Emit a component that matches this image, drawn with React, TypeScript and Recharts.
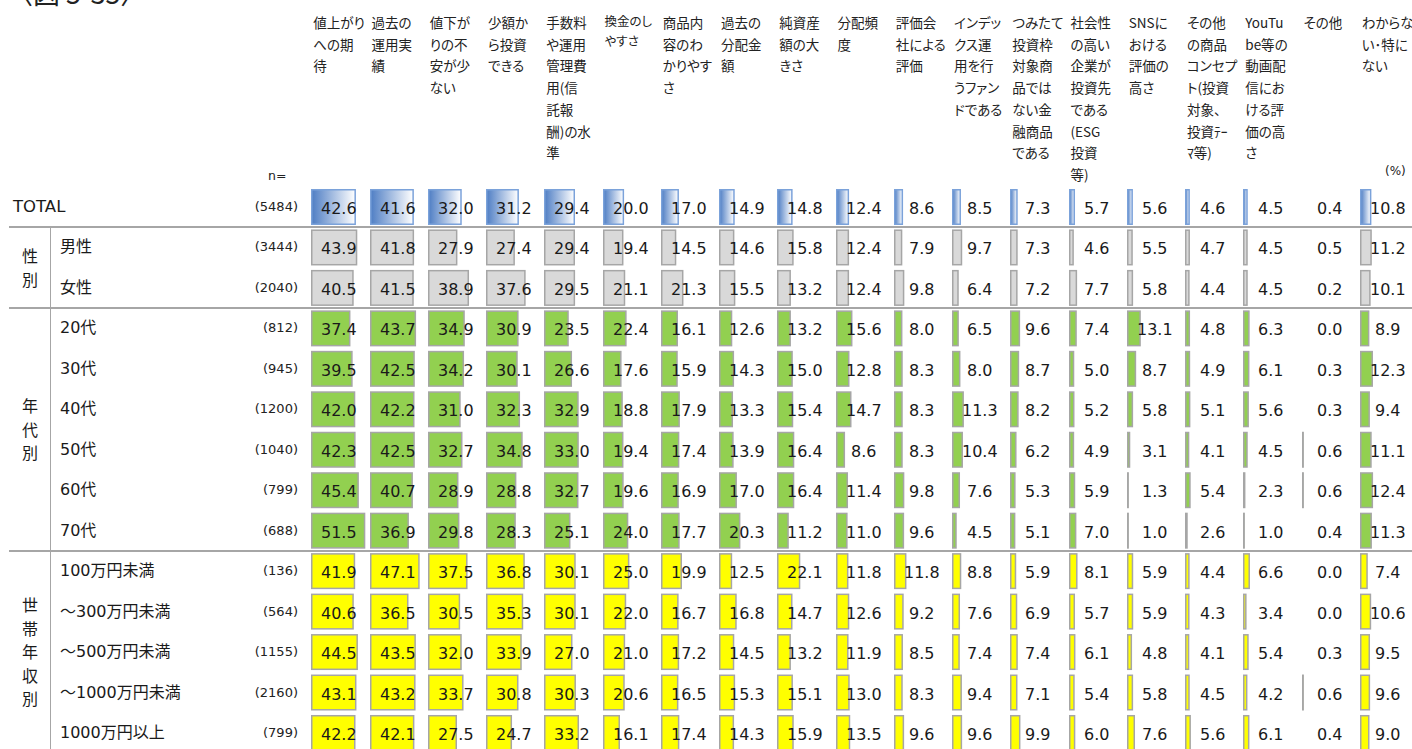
import { Bar, BarChart, LabelList, XAxis, YAxis } from "recharts";

// 行ラベル・n数・グループ
const ROW_LABELS = [
  "TOTAL", "男性", "女性", "20代", "30代", "40代", "50代", "60代", "70代",
  "100万円未満", "～300万円未満", "～500万円未満", "～1000万円未満", "1000万円以上",
];
const ROW_N = [5484, 3444, 2040, 812, 945, 1200, 1040, 799, 688, 136, 564, 1155, 2160, 799];
const ROW_GROUP = [
  "total", "gender", "gender", "age", "age", "age", "age", "age", "age",
  "income", "income", "income", "income", "income",
];

// 列見出し（改行位置は元の表どおり）
const COLUMN_HEADERS = [
  ["値上がり", "への期", "待"],
  ["過去の", "運用実", "績"],
  ["値下が", "りの不", "安が少", "ない"],
  ["少額か", "ら投資", "できる"],
  ["手数料", "や運用", "管理費", "用(信", "託報", "酬)の水", "準"],
  ["換金のし", "やすさ"],
  ["商品内", "容のわ", "かりやす", "さ"],
  ["過去の", "分配金", "額"],
  ["純資産", "額の大", "きさ"],
  ["分配頻", "度"],
  ["評価会", "社による", "評価"],
  ["インデッ", "クス運", "用を行", "うファン", "ドである"],
  ["つみたて", "投資枠", "対象商", "品では", "ない金", "融商品", "である"],
  ["社会性", "の高い", "企業が", "投資先", "である", "(ESG", "投資", "等)"],
  ["SNSに", "おける", "評価の", "高さ"],
  ["その他", "の商品", "コンセプ", "ト(投資", "対象、", "投資ﾃｰ", "ﾏ等)"],
  ["YouTu", "be等の", "動画配", "信にお", "ける評", "価の高", "さ"],
  ["その他"],
  ["わからな", "い･特に", "ない"],
];

// 各行の値（%）
const TOTAL_ROW = [42.6, 41.6, 32.0, 31.2, 29.4, 20.0, 17.0, 14.9, 14.8, 12.4, 8.6, 8.5, 7.3, 5.7, 5.6, 4.6, 4.5, 0.4, 10.8];
const MALE = [43.9, 41.8, 27.9, 27.4, 29.4, 19.4, 14.5, 14.6, 15.8, 12.4, 7.9, 9.7, 7.3, 4.6, 5.5, 4.7, 4.5, 0.5, 11.2];
const FEMALE = [40.5, 41.5, 38.9, 37.6, 29.5, 21.1, 21.3, 15.5, 13.2, 12.4, 9.8, 6.4, 7.2, 7.7, 5.8, 4.4, 4.5, 0.2, 10.1];
const AGE_20 = [37.4, 43.7, 34.9, 30.9, 23.5, 22.4, 16.1, 12.6, 13.2, 15.6, 8.0, 6.5, 9.6, 7.4, 13.1, 4.8, 6.3, 0.0, 8.9];
const AGE_30 = [39.5, 42.5, 34.2, 30.1, 26.6, 17.6, 15.9, 14.3, 15.0, 12.8, 8.3, 8.0, 8.7, 5.0, 8.7, 4.9, 6.1, 0.3, 12.3];
const AGE_40 = [42.0, 42.2, 31.0, 32.3, 32.9, 18.8, 17.9, 13.3, 15.4, 14.7, 8.3, 11.3, 8.2, 5.2, 5.8, 5.1, 5.6, 0.3, 9.4];
const AGE_50 = [42.3, 42.5, 32.7, 34.8, 33.0, 19.4, 17.4, 13.9, 16.4, 8.6, 8.3, 10.4, 6.2, 4.9, 3.1, 4.1, 4.5, 0.6, 11.1];
const AGE_60 = [45.4, 40.7, 28.9, 28.8, 32.7, 19.6, 16.9, 17.0, 16.4, 11.4, 9.8, 7.6, 5.3, 5.9, 1.3, 5.4, 2.3, 0.6, 12.4];
const AGE_70 = [51.5, 36.9, 29.8, 28.3, 25.1, 24.0, 17.7, 20.3, 11.2, 11.0, 9.6, 4.5, 5.1, 7.0, 1.0, 2.6, 1.0, 0.4, 11.3];
const INC_100 = [41.9, 47.1, 37.5, 36.8, 30.1, 25.0, 19.9, 12.5, 22.1, 11.8, 11.8, 8.8, 5.9, 8.1, 5.9, 4.4, 6.6, 0.0, 7.4];
const INC_300 = [40.6, 36.5, 30.5, 35.3, 30.1, 22.0, 16.7, 16.8, 14.7, 12.6, 9.2, 7.6, 6.9, 5.7, 5.9, 4.3, 3.4, 0.0, 10.6];
const INC_500 = [44.5, 43.5, 32.0, 33.9, 27.0, 21.0, 17.2, 14.5, 13.2, 11.9, 8.5, 7.4, 7.4, 6.1, 4.8, 4.1, 5.4, 0.3, 9.5];
const INC_1000 = [43.1, 43.2, 33.7, 30.8, 30.3, 20.6, 16.5, 15.3, 15.1, 13.0, 8.3, 9.4, 7.1, 5.4, 5.8, 4.5, 4.2, 0.6, 9.6];
const INC_OVER = [42.2, 42.1, 27.5, 24.7, 33.2, 16.1, 17.4, 14.3, 15.9, 13.5, 9.6, 9.6, 9.9, 6.0, 7.6, 5.6, 6.1, 0.4, 9.0];

const ROW_VALUES = [
  TOTAL_ROW, MALE, FEMALE, AGE_20, AGE_30, AGE_40, AGE_50, AGE_60, AGE_70,
  INC_100, INC_300, INC_500, INC_1000, INC_OVER,
];

// layout
const COL_X0 = 311.3;
const COL_PITCH = 58.25;
const COL_W = 58;
const TOP = 186.8;
const BAND = 40.46;
const SCALE_MAX = 55; // 58px / 55% ≒ 1.05px per %
const LINE = "#a6a6a6";
const TEXT = "#1a1a1a";
const JP = "'Noto Sans CJK JP', sans-serif";
const LATIN = "'DejaVu Sans', 'Noto Sans CJK JP', sans-serif";

const BAR_STYLE: Record<string, { fill: string; stroke: string }> = {
  total: { fill: "", stroke: "#7ba2da" },
  gender: { fill: "#d9d9d9", stroke: LINE },
  age: { fill: "#92d050", stroke: LINE },
  income: { fill: "#ffff00", stroke: LINE },
};

function rowCenter(i: number) {
  return TOP + BAND * (i + 0.5);
}

function makeBarShape(col: number) {
  return (props: any) => {
    const { x, y, width, height, payload } = props;
    if (!(width >= 0.6)) return <g />;
    const s = BAR_STYLE[payload.group];
    const fill = payload.group === "total" ? `url(#tot-${col})` : s.fill;
    return (
      <rect
        x={x + 0.75}
        y={y + 0.75}
        width={Math.max(width - 1.5, 0.4)}
        height={height - 1.5}
        fill={fill}
        stroke={s.stroke}
        strokeWidth={1.5}
      />
    );
  };
}

function ColumnChart({ col }: { col: number }) {
  const data = ROW_LABELS.map((name, i) => ({
    name,
    v: ROW_VALUES[i][col],
    group: ROW_GROUP[i],
  }));

  return (
    <div style={{ position: "absolute", left: COL_X0 + COL_PITCH * col, top: TOP }}>
      <BarChart
        width={COL_W}
        height={BAND * ROW_LABELS.length}
        data={data}
        layout="vertical"
        margin={{ top: 0, right: 0, bottom: 0, left: 0 }}
        barCategoryGap={0}
      >
        <defs>
          <linearGradient id={`tot-${col}`} x1="0" y1="0" x2="1" y2="0">
            <stop offset="0%" stopColor="#4f7ec4" />
            <stop offset="100%" stopColor="#ffffff" />
          </linearGradient>
        </defs>
        <XAxis type="number" domain={[0, SCALE_MAX]} hide />
        <YAxis type="category" dataKey="name" hide />
        <Bar dataKey="v" barSize={36} isAnimationActive={false} shape={makeBarShape(col)}>
          <LabelList
            dataKey="v"
            content={(p: any) => (
              <text
                x={27.8}
                y={Number(p.y) + Number(p.height) / 2 + 1.5}
                textAnchor="middle"
                dominantBaseline="central"
                fontFamily={LATIN}
                fontSize={16}
                fill={TEXT}
              >
                {Number(p.value).toFixed(1)}
              </text>
            )}
          />
        </Bar>
      </BarChart>
    </div>
  );
}

function VerticalLabel({ text, center }: { text: string; center: number }) {
  const lh = 23.5;
  const h = lh * text.length;
  return (
    <div
      style={{
        position: "absolute",
        left: 18,
        width: 24,
        top: center - h / 2,
        textAlign: "center",
        fontFamily: JP,
        fontSize: 16,
        lineHeight: `${lh}px`,
        color: TEXT,
      }}
    >
      {text.split("").map((c, i) => (
        <div key={i}>{c}</div>
      ))}
    </div>
  );
}

export default function App() {
  return (
    <div
      style={{
        position: "fixed",
        left: 0,
        top: 0,
        width: 1412,
        height: 749,
        overflow: "hidden",
        background: "#fff",
        color: TEXT,
      }}
    >
      {/* 図番号（元画像でも上端で切れている） */}
      <div
        style={{
          position: "absolute",
          left: 6,
          top: -27,
          fontFamily: JP,
          fontSize: 27,
          color: "#222",
          whiteSpace: "nowrap",
        }}
      >
        〈図 5-35〉
      </div>

      {COLUMN_HEADERS.map((lines, c) => {
        const small = c === 5;
        return (
          <div
            key={c}
            style={{
              position: "absolute",
              left: COL_X0 + COL_PITCH * c + 2,
              top: small ? 11 : 12,
              fontFamily: JP,
              fontSize: small ? 12.5 : 13.5,
              lineHeight: small ? "20px" : "21.7px",
              fontFeatureSettings: "'palt'",
              whiteSpace: "nowrap",
              color: "#222",
            }}
          >
            {lines.map((l, i) => (
              <div key={i}>{l}</div>
            ))}
          </div>
        );
      })}

      <div style={{ position: "absolute", left: 268, top: 168, fontFamily: LATIN, fontSize: 12.5, color: "#222" }}>n=</div>
      <div style={{ position: "absolute", left: 1385, top: 164, fontFamily: LATIN, fontSize: 12, color: "#222" }}>(%)</div>

      {ROW_LABELS.map((label, i) => (
        <div key={label}>
          <div
            style={{
              position: "absolute",
              left: i === 0 ? 13 : 60,
              top: rowCenter(i) - 12,
              height: 24,
              lineHeight: "24px",
              fontFamily: LATIN,
              fontSize: i === 0 ? 16.5 : 16,
              whiteSpace: "nowrap",
            }}
          >
            {label}
          </div>
          <div
            style={{
              position: "absolute",
              left: 220,
              width: 78,
              textAlign: "right",
              top: rowCenter(i) - 10,
              height: 20,
              lineHeight: "20px",
              fontFamily: LATIN,
              fontSize: 13,
              color: "#222",
            }}
          >
            ({ROW_N[i]})
          </div>
        </div>
      ))}

      <VerticalLabel text="性別" center={(rowCenter(1) + rowCenter(2)) / 2} />
      <VerticalLabel text="年代別" center={(rowCenter(3) + rowCenter(8)) / 2} />
      <VerticalLabel text="世帯年収別" center={(rowCenter(9) + rowCenter(13)) / 2} />

      {[1, 3, 9].map((r) => (
        <div
          key={r}
          style={{ position: "absolute", left: 9, right: 0, top: TOP + BAND * r - 1, height: 2, background: LINE }}
        />
      ))}
      <div style={{ position: "absolute", left: 49.5, top: TOP + BAND, width: 1.5, bottom: 0, background: LINE }} />

      {COLUMN_HEADERS.map((_, c) => (
        <ColumnChart key={c} col={c} />
      ))}
    </div>
  );
}
